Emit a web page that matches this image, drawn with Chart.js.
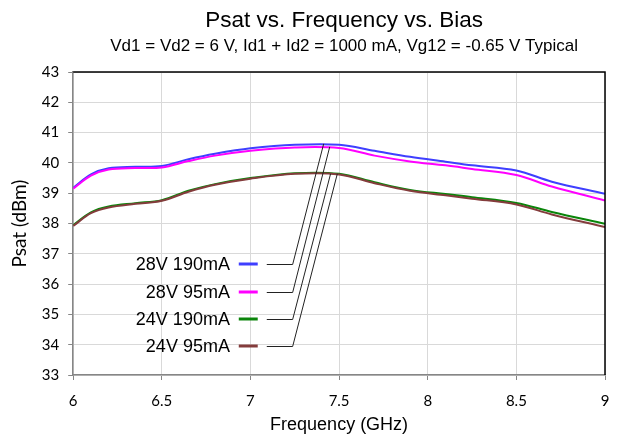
<!DOCTYPE html>
<html>
<head>
<meta charset="utf-8">
<script src="https://cdn.jsdelivr.net/npm/chart.js@4"></script>
<style>
  html, body { margin: 0; padding: 0; background: #fff; }
  #wrap { width: 626px; height: 438px; }
</style>
</head>
<body>
<div id="wrap"><canvas id="chart" width="626" height="438"></canvas></div>
<script>
// frequencies (GHz)
const freqs = [6.0, 6.1, 6.2, 6.35, 6.5, 6.65, 6.8, 7.0, 7.25, 7.5, 7.7, 7.9, 8.1, 8.25, 8.5, 8.7, 9.0];

// Psat (dBm) per bias
const psat28v190 = [39.18, 39.62, 39.82, 39.87, 39.90, 40.12, 40.30, 40.48, 40.60, 40.60, 40.40, 40.20, 40.04, 39.92, 39.75, 39.38, 38.98];
const psat28v95  = [39.15, 39.58, 39.78, 39.83, 39.85, 40.06, 40.24, 40.40, 40.51, 40.49, 40.24, 40.05, 39.92, 39.80, 39.60, 39.22, 38.76];
const psat24v190 = [37.95, 38.37, 38.56, 38.67, 38.77, 39.08, 39.30, 39.50, 39.66, 39.64, 39.36, 39.11, 38.97, 38.87, 38.68, 38.38, 37.99];
const psat24v95  = [37.92, 38.34, 38.53, 38.65, 38.75, 39.05, 39.28, 39.48, 39.64, 39.62, 39.33, 39.08, 38.93, 38.82, 38.63, 38.30, 37.88];

const seriesNames = ['28V 190mA', '28V 95mA', '24V 190mA', '24V 95mA'];
const seriesColors = ['#3f3fff', '#ff00ff', '#0a850a', '#843c3c'];

const titleText = 'Psat vs. Frequency vs. Bias';
const subtitleText = 'Vd1 = Vd2 = 6 V, Id1 + Id2 = 1000 mA, Vg12 = -0.65 V Typical';

// legend rows (value axis) and where each leader line touches its curve
const legendRowY = [36.65, 35.73, 34.84, 33.95];
const leaderTipX = [7.413, 7.447, 7.452, 7.49];
const leaderTipY = [40.63, 40.53, 39.64, 39.64];

function toPoints(vals) {
    return freqs.map((f, i) => ({ x: f, y: vals[i] }));
}

const allSeries = [psat28v190, psat28v95, psat24v190, psat24v95];

const datasets = allSeries.map((vals, i) => ({
    label: seriesNames[i],
    data: toPoints(vals),
    borderColor: seriesColors[i],
    backgroundColor: seriesColors[i],
    borderWidth: 2,
    pointRadius: 0,
    tension: 0.35,
    fill: false
})).reverse();

// titles, frame top/right and the in-plot legend with leader lines
const framePlugin = {
    id: 'frameAndLegend',
    afterDraw(chart) {
        const ctx = chart.ctx;
        const area = chart.chartArea;
        const xs = chart.scales.x;
        const ys = chart.scales.y;
        const midX = (area.left + area.right) / 2 + 5;

        ctx.save();
        ctx.fillStyle = '#000';
        ctx.textAlign = 'center';
        ctx.textBaseline = 'middle';
        ctx.font = '22.5px "Liberation Sans", Arial, sans-serif';
        ctx.fillText(titleText, midX, 21);
        ctx.font = '17px "Liberation Sans", Arial, sans-serif';
        ctx.fillText(subtitleText, midX, 46);

        ctx.strokeStyle = '#000';
        ctx.lineWidth = 1.5;
        ctx.beginPath();
        ctx.moveTo(area.left, area.top);
        ctx.lineTo(area.right, area.top);
        ctx.lineTo(area.right, area.bottom);
        ctx.stroke();

        ctx.font = '18px "Liberation Sans", Arial, sans-serif';
        ctx.textAlign = 'right';
        for (let i = 0; i < seriesNames.length; i++) {
            const y = Math.round(ys.getPixelForValue(legendRowY[i]));
            ctx.fillStyle = '#000';
            ctx.fillText(seriesNames[i], xs.getPixelForValue(6.884), y + 1);

            ctx.strokeStyle = seriesColors[i];
            ctx.lineWidth = 3;
            ctx.beginPath();
            ctx.moveTo(xs.getPixelForValue(6.934), y);
            ctx.lineTo(xs.getPixelForValue(7.041), y);
            ctx.stroke();

            ctx.strokeStyle = '#222';
            ctx.lineWidth = 1;
            ctx.beginPath();
            ctx.moveTo(xs.getPixelForValue(7.092), y + 0.5);
            ctx.lineTo(xs.getPixelForValue(7.238), y + 0.5);
            ctx.lineTo(xs.getPixelForValue(leaderTipX[i]), ys.getPixelForValue(leaderTipY[i]));
            ctx.stroke();
        }
        ctx.restore();
    }
};

const tickFont = { family: 'Lato, "Open Sans", sans-serif', size: 15 };
const axisColor = '#868686';

new Chart('chart', {
    type: 'line',
    data: { datasets: datasets },
    options: {
        responsive: false,
        animation: false,
        layout: { padding: { left: 8, right: 21, top: 72, bottom: 0 } },
        plugins: {
            legend: { display: false },
            tooltip: { enabled: false }
        },
        scales: {
            x: {
                type: 'linear',
                min: 6,
                max: 9,
                afterFit: (scale) => { scale.height = 63; },
                ticks: {
                    stepSize: 0.5, color: '#000', font: tickFont, padding: 12,
                    callback: (v) => String(Number(v.toFixed(1)))
                },
                grid: { color: '#d9d9d9', tickColor: axisColor, tickLength: 5 },
                border: { color: axisColor, width: 1.5 },
                title: {
                    display: true,
                    text: 'Frequency (GHz)',
                    color: '#000',
                    font: { family: '"Liberation Sans", Arial, sans-serif', size: 18 },
                    padding: { top: 0, bottom: 2 }
                }
            },
            y: {
                min: 33,
                max: 43,
                ticks: { stepSize: 1, color: '#000', font: tickFont, padding: 9 },
                grid: { color: '#d9d9d9', tickColor: axisColor, tickLength: 5 },
                border: { color: axisColor, width: 1.5 },
                title: {
                    display: true,
                    text: 'Psat (dBm)',
                    color: '#000',
                    font: { family: 'Lato, "Open Sans", sans-serif', size: 19 },
                    padding: { top: 0, bottom: 2 }
                }
            }
        }
    },
    plugins: [framePlugin]
});
</script>
</body>
</html>
